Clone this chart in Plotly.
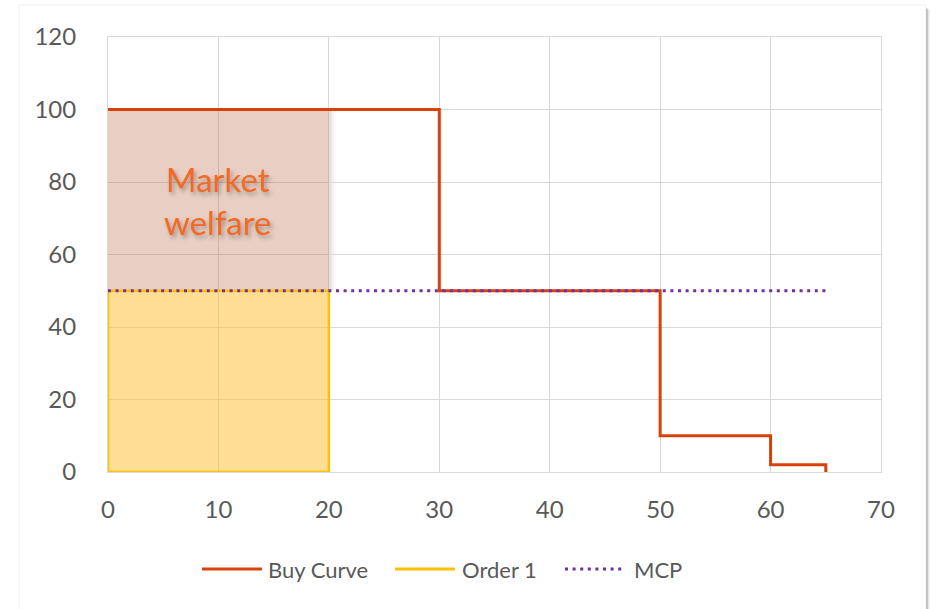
import plotly.graph_objects as go

# Stepped buy curve: quantity (MW) vs price
buy_qty = [0, 30, 30, 50, 50, 60, 60, 65, 65]
buy_price = [100, 100, 50, 50, 10, 10, 2, 2, 0]

# Accepted order block (quantity x clearing price)
order_qty = [0, 0, 20, 20, 0]
order_price = [0, 50, 50, 0, 0]

# Market clearing price line
mcp_qty = [0, 65]
mcp_price = [50, 50]

# Welfare block between bid price and clearing price
welfare_qty = [0, 0, 20, 20, 0]
welfare_price = [50, 100, 100, 50, 50]

x_ticks = [0, 10, 20, 30, 40, 50, 60, 70]
y_ticks = [0, 20, 40, 60, 80, 100, 120]

FONT = "Lato, Calibri, sans-serif"
TEXT_GREY = "#595959"
GRID = "#D9D9D9"

BUY_COLOR = "#D9400A"
ORDER_COLOR = "#FFC000"
MCP_COLOR = "#7030A0"
MCP_DASH = "3px,4.6px"

fig = go.Figure()

# soft shadow to the right of the welfare block
for i, a in enumerate([0.06, 0.04, 0.02]):
    fig.add_shape(type="rect", x0=welfare_qty[2], x1=welfare_qty[2] + 0.22 * (i + 1),
                  y0=welfare_price[0], y1=welfare_price[1],
                  fillcolor=f"rgba(0,0,0,{a})", line_width=0, layer="below")

fig.add_trace(go.Scatter(
    x=welfare_qty, y=welfare_price, mode="lines", fill="toself",
    fillcolor="rgba(182,95,55,0.30)", line=dict(width=0), showlegend=False,
    hoverinfo="skip"))

fig.add_trace(go.Scatter(
    x=order_qty, y=order_price, mode="lines", name="Order 1", fill="toself",
    fillcolor="rgba(251,190,40,0.50)", line=dict(color=ORDER_COLOR, width=2.5),
    showlegend=False))

fig.add_trace(go.Scatter(
    x=buy_qty, y=buy_price, mode="lines", name="Buy Curve",
    line=dict(color=BUY_COLOR, width=3), showlegend=False))

fig.add_trace(go.Scatter(
    x=mcp_qty, y=mcp_price, mode="lines", name="MCP",
    line=dict(color=MCP_COLOR, width=3, dash=MCP_DASH), showlegend=False))

# label with a soft drop shadow
fig.add_annotation(x=10, y=75, text="Market<br>welfare", showarrow=False,
                   font=dict(family=FONT, size=33, color="#F26A24",
                             shadow="2px 3px 4px rgba(0,0,0,0.30)"))

# pixel -> paper helpers for the frame decorations
px_w, px_h = 773.0, 435.0
def px_x(p):
    return (p - 108) / px_w
def px_y(p):
    return (472 - p) / px_h

# legend row under the chart: (label, colour, dash, width, line start/end px, text start px)
legend_items = [
    ("Buy Curve", BUY_COLOR, "solid", 3, 202, 262, 266),
    ("Order 1", ORDER_COLOR, "solid", 3, 395, 455, 460),
    ("MCP", MCP_COLOR, MCP_DASH, 3, 565, 622, 632),
]
legend_y = px_y(569)
for name, col, dash, w, x0, x1, tx in legend_items:
    fig.add_shape(type="line", xref="paper", yref="paper",
                  x0=px_x(x0), x1=px_x(x1), y0=legend_y, y1=legend_y,
                  line=dict(color=col, width=w, dash=dash))
    fig.add_annotation(xref="paper", yref="paper", x=px_x(tx), y=legend_y,
                       xanchor="left", yanchor="middle", showarrow=False, text=name,
                       font=dict(family=FONT, size=22, color=TEXT_GREY))

# card background with right-edge shadow
for i, a in enumerate([0.22, 0.14, 0.07, 0.03]):
    fig.add_shape(type="rect", xref="paper", yref="paper",
                  x0=px_x(22), x1=px_x(927 + i), y0=px_y(612), y1=px_y(8 + i * 0.5),
                  fillcolor=f"rgba(0,0,0,{a})", line_width=0, layer="below")
fig.add_shape(type="rect", xref="paper", yref="paper",
              x0=px_x(19), x1=px_x(926), y0=px_y(615), y1=px_y(5),
              fillcolor="white", line=dict(color="#EFEFEF", width=1), layer="below")

fig.update_xaxes(range=[0, 70], tickvals=x_ticks, showgrid=True, gridcolor=GRID,
                 gridwidth=1, zeroline=False, showline=True, linecolor=GRID,
                 mirror=True, ticks="outside", ticklen=0, ticklabelstandoff=16,
                 tickfont=dict(family=FONT, size=24, color=TEXT_GREY))
fig.update_yaxes(range=[0, 120], tickvals=y_ticks, showgrid=True, gridcolor=GRID,
                 gridwidth=1, zeroline=False, showline=True, linecolor=GRID,
                 mirror=True, ticks="outside", ticklen=0, ticklabelstandoff=26,
                 tickfont=dict(family=FONT, size=24, color=TEXT_GREY))

fig.update_layout(
    width=936, height=609,
    margin=dict(l=108, r=55, t=37, b=137),
    paper_bgcolor="white", plot_bgcolor="rgba(0,0,0,0)",
    font=dict(family=FONT, color=TEXT_GREY),
    showlegend=False,
)

fig.write_html("out.html")
